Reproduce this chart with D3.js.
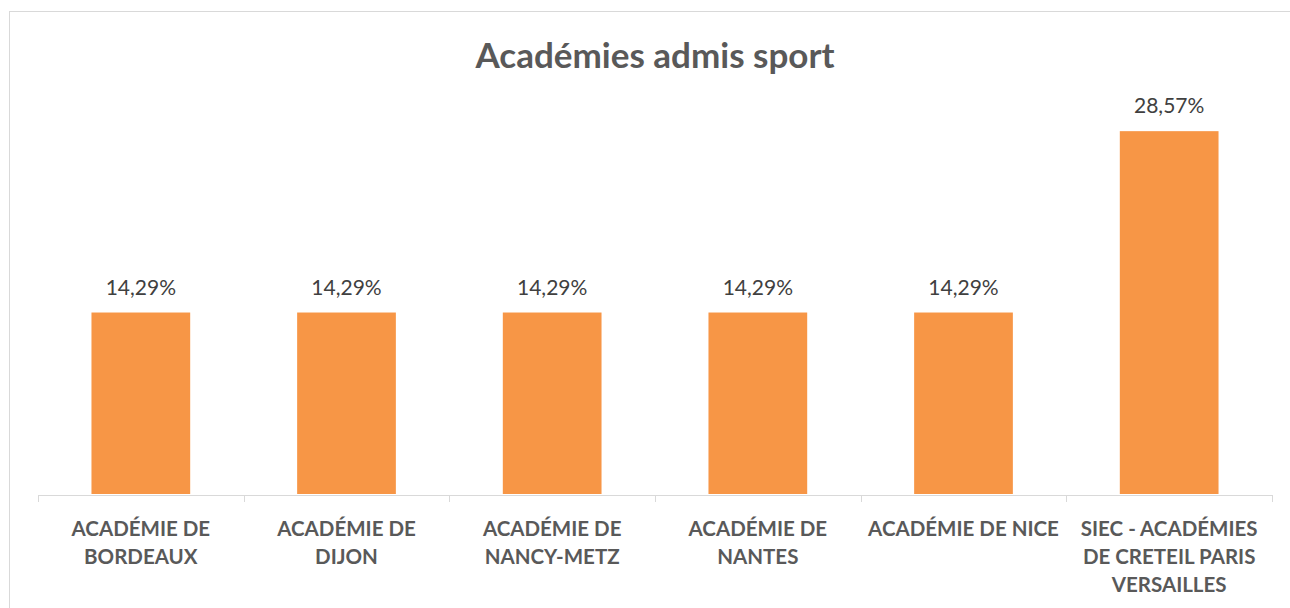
<!DOCTYPE html>
<html lang="fr">
<head>
<meta charset="UTF-8">
<title>Académies admis sport</title>
<script src="https://d3js.org/d3.v7.min.js"></script>
<style type="text/css">
    body { margin: 0; background: white; }
    text { font-family: Lato, "Open Sans", sans-serif; }
</style>
</head>
<body>
<script type="text/javascript">

const categories = [
    "ACADÉMIE DE BORDEAUX",
    "ACADÉMIE DE DIJON",
    "ACADÉMIE DE NANCY-METZ",
    "ACADÉMIE DE NANTES",
    "ACADÉMIE DE NICE",
    "SIEC - ACADÉMIES DE CRETEIL PARIS VERSAILLES"
];
const values = [14.29, 14.29, 14.29, 14.29, 14.29, 28.57];
const valueLabels = ["14,29%", "14,29%", "14,29%", "14,29%", "14,29%", "28,57%"];

const width = 1290, height = 608;
const svg = d3.select("body").append("svg")
    .attr("width", width)
    .attr("height", height);

// chart frame
svg.append("rect")
    .attr("x", 9.5).attr("y", 11.5)
    .attr("width", 1300).attr("height", 620)
    .attr("fill", "white")
    .attr("stroke", "#d9d9d9");

svg.append("text")
    .attr("x", 655).attr("y", 68)
    .attr("text-anchor", "middle")
    .style("font-size", "35px")
    .style("font-weight", "bold")
    .style("fill", "#595959")
    .text("Académies admis sport");

const x = d3.scaleBand()
    .domain(categories)
    .range([38, 1272])
    .paddingInner(0.52)
    .paddingOuter(0.26);

const y = d3.scaleLinear()
    .domain([0, 30])
    .range([494, 113]);

svg.selectAll(".bar")
    .data(values)
    .enter().append("rect")
    .attr("class", "bar")
    .attr("x", (d, i) => x(categories[i]))
    .attr("y", d => y(d))
    .attr("width", x.bandwidth())
    .attr("height", d => y(0) - y(d))
    .attr("fill", "#f79646");

svg.selectAll(".val")
    .data(values)
    .enter().append("text")
    .attr("class", "val")
    .attr("x", (d, i) => x(categories[i]) + x.bandwidth() / 2)
    .attr("y", d => y(d) - 18)
    .attr("text-anchor", "middle")
    .style("font-size", "21px")
    .style("fill", "#404040")
    .text((d, i) => valueLabels[i]);

// category axis with ticks between categories
const step = (1272 - 38) / categories.length;
const axisG = svg.append("g");
axisG.append("line")
    .attr("x1", 38).attr("x2", 1272)
    .attr("y1", 495.5).attr("y2", 495.5)
    .attr("stroke", "#d9d9d9");
axisG.selectAll(".tick")
    .data(d3.range(categories.length + 1))
    .enter().append("line")
    .attr("x1", i => Math.round(38 + i * step) + 0.5)
    .attr("x2", i => Math.round(38 + i * step) + 0.5)
    .attr("y1", 495).attr("y2", 502)
    .attr("stroke", "#d9d9d9");

function wrapLines(str, maxWidth, measure) {
    const words = str.split(" ");
    const lines = [];
    let cur = "";
    words.forEach(w => {
        const test = cur ? cur + " " + w : w;
        if (cur && measure(test) > maxWidth) {
            lines.push(cur);
            cur = w;
        } else {
            cur = test;
        }
    });
    if (cur) lines.push(cur);
    return lines;
}

const labels = svg.selectAll(".cat")
    .data(categories)
    .enter().append("text")
    .attr("class", "cat")
    .attr("text-anchor", "middle")
    .style("font-size", "20.5px")
    .style("font-weight", "bold")
    .style("fill", "#595959");

labels.each(function(d) {
    const el = d3.select(this);
    const cx = x(d) + x.bandwidth() / 2;
    const probe = el.append("tspan");
    const measure = s => { probe.text(s); return probe.node().getComputedTextLength(); };
    const lines = wrapLines(d, 196, measure);
    probe.remove();
    lines.forEach((line, k) => {
        el.append("tspan")
            .attr("x", cx)
            .attr("y", 536 + k * 28)
            .text(line);
    });
});

</script>
</body>
</html>
